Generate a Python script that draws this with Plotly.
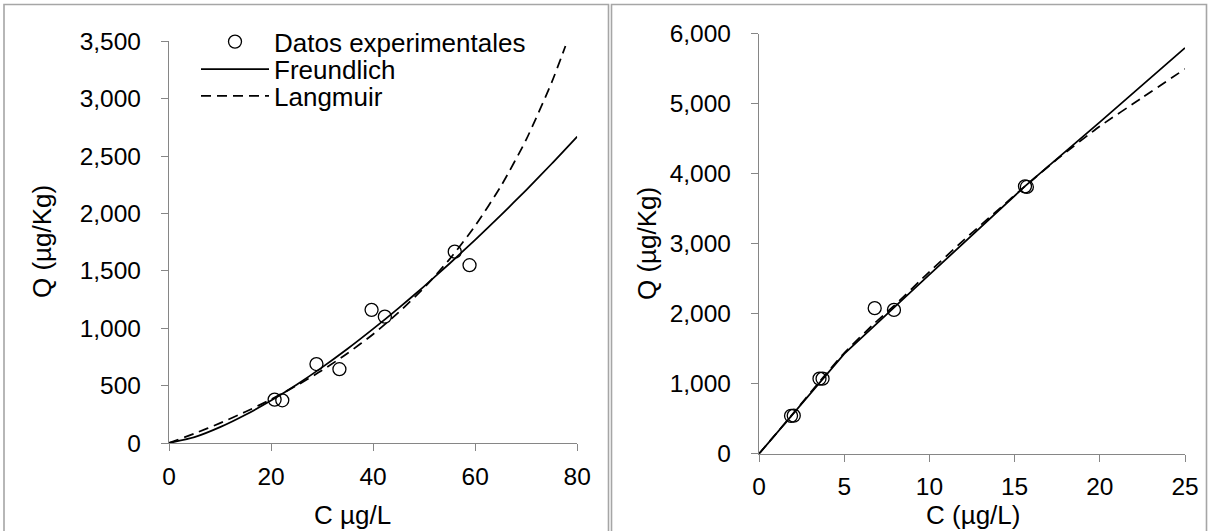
import plotly.graph_objects as go

W, H = 1209, 531

# ---------------- data: left panel ----------------
c_exp_left = [20.7, 22.2, 28.9, 33.4, 39.7, 42.3, 56.0, 58.9]
q_exp_left = [378, 372, 688, 643, 1160, 1101, 1667, 1549]

c_fit_left = [0, 5, 10, 15, 20, 25, 30, 35, 40, 45, 50, 55, 60, 65, 70, 75, 80]
q_freund_left = [0, 51, 138, 246, 370, 508, 659, 821, 994, 1175, 1365, 1564, 1770, 1983, 2204, 2433, 2670]

c_lang_left = [0, 5, 10, 15, 20, 25, 30, 35, 40, 45, 50, 55, 60, 65, 70, 75, 77.7]
q_lang_left = [0, 83, 173, 272, 380, 500, 633, 782, 948, 1138, 1353, 1602, 1892, 2234, 2643, 3142, 3459]

# ---------------- data: right panel ----------------
c_exp_right = [1.88, 2.04, 3.55, 3.73, 6.79, 7.92, 15.61, 15.72]
q_exp_right = [542, 545, 1074, 1074, 2081, 2056, 3822, 3813]

c_freund_right = [0, 1.9, 3.6, 5, 6.8, 7.9, 10, 15.6, 20, 25]
q_freund_right = [0, 545, 1035, 1427, 1835, 2085, 2560, 3820, 4740, 5800]

c_lang_right = [0, 1.9, 3.6, 5, 6.8, 7.9, 10, 12, 15.6, 17.5, 20, 22.5, 25]
q_lang_right = [0, 545, 1045, 1440, 1870, 2110, 2600, 3050, 3820, 4210, 4680, 5090, 5500]

left_xticks = [0, 20, 40, 60, 80]
left_yticks = [0, 500, 1000, 1500, 2000, 2500, 3000, 3500]
right_xticks = [0, 5, 10, 15, 20, 25]
right_yticks = [0, 1000, 2000, 3000, 4000, 5000, 6000]

names = ["Datos experimentales", "Freundlich", "Langmuir"]

FONT = "Liberation Sans, Arial, sans-serif"
AXC = "#868686"
LW = 1.75
DASH = "10px,6px"


def px(x):
    return x / W


def py(y):
    return 1 - y / H


fig = go.Figure()

# left panel traces
fig.add_trace(go.Scatter(x=c_exp_left, y=q_exp_left, mode="markers", name=names[0],
                         marker=dict(symbol="circle-open", size=13, color="black", line=dict(width=1.3)),
                         xaxis="x", yaxis="y", legend="legend"))
fig.add_trace(go.Scatter(x=c_fit_left, y=q_freund_left, mode="lines", name=names[1],
                         line=dict(color="black", width=LW, shape="spline", smoothing=0.6),
                         xaxis="x", yaxis="y", legend="legend2"))
fig.add_trace(go.Scatter(x=c_lang_left, y=q_lang_left, mode="lines", name=names[2],
                         line=dict(color="black", width=LW, dash=DASH, shape="spline", smoothing=0.6),
                         xaxis="x", yaxis="y", legend="legend3"))

# right panel traces
fig.add_trace(go.Scatter(x=c_exp_right, y=q_exp_right, mode="markers", showlegend=False,
                         marker=dict(symbol="circle-open", size=13, color="black", line=dict(width=1.3)),
                         xaxis="x2", yaxis="y2"))
fig.add_trace(go.Scatter(x=c_freund_right, y=q_freund_right, mode="lines", showlegend=False,
                         line=dict(color="black", width=LW),
                         xaxis="x2", yaxis="y2"))
fig.add_trace(go.Scatter(x=c_lang_right, y=q_lang_right, mode="lines", showlegend=False,
                         line=dict(color="black", width=LW, dash=DASH, shape="spline", smoothing=0.5),
                         xaxis="x2", yaxis="y2"))

tickfont = dict(family=FONT, size=24.5, color="black")
common = dict(showgrid=False, zeroline=False, showline=True, linecolor=AXC, linewidth=1.2,
              ticks="outside", ticklen=7, tickcolor=AXC, tickwidth=1.2, tickfont=tickfont,
              tickformat=",d", fixedrange=True, automargin=False)

fig.update_layout(
    template="none",
    width=W, height=H,
    autosize=False,
    margin=dict(l=0, r=0, t=0, b=0, pad=0, autoexpand=False),
    paper_bgcolor="white", plot_bgcolor="white",
    xaxis=dict(domain=[px(169), px(577.2)], range=[0, 80], tickvals=left_xticks,
               anchor="y", ticklabelstandoff=4, **common),
    yaxis=dict(domain=[py(443), py(41.3)], range=[0, 3500], tickvals=left_yticks,
               anchor="x", ticklabelstandoff=15, **common),
    xaxis2=dict(domain=[px(759), px(1185)], range=[0, 25], tickvals=right_xticks,
                anchor="y2", ticklabelstandoff=4, **common),
    yaxis2=dict(domain=[py(453.8), py(33.9)], range=[0, 6000], tickvals=right_yticks,
                anchor="x2", ticklabelstandoff=15, **common),
    showlegend=True,
)

legend_common = dict(font=dict(family=FONT, size=26, color="black"), bgcolor="rgba(0,0,0,0)",
                     borderwidth=0, itemwidth=68, xanchor="left", yanchor="middle",
                     tracegroupgap=0, itemclick=False, itemdoubleclick=False)
fig.update_layout(
    legend=dict(x=px(196), y=py(41.7), **legend_common),
    legend2=dict(x=px(196), y=py(69.3), **legend_common),
    legend3=dict(x=px(196), y=py(96), **legend_common),
)

# axis titles
ann_font = dict(family=FONT, size=26, color="black")
fig.add_annotation(text="C µg/L", x=px(352), y=py(515), xref="paper", yref="paper",
                   showarrow=False, font=ann_font, xanchor="center", yanchor="middle")
fig.add_annotation(text="C (µg/L)", x=px(973), y=py(515), xref="paper", yref="paper",
                   showarrow=False, font=ann_font, xanchor="center", yanchor="middle")
fig.add_annotation(text="Q (µg/Kg)", x=px(42), y=py(242), xref="paper", yref="paper",
                   showarrow=False, font=ann_font, textangle=-90, xanchor="center", yanchor="middle")
fig.add_annotation(text="Q (µg/Kg)", x=px(647), y=py(244), xref="paper", yref="paper",
                   showarrow=False, font=ann_font, textangle=-90, xanchor="center", yanchor="middle")

# panel borders
border = dict(color="#a6a6a6", width=1.6)
fig.add_shape(type="rect", xref="paper", yref="paper", x0=px(4), x1=px(608.5), y0=py(540), y1=py(4.5),
              line=border, layer="below")
fig.add_shape(type="rect", xref="paper", yref="paper", x0=px(611.5), x1=px(1206.5), y0=py(540), y1=py(4.5),
              line=border, layer="below")

fig.write_html("out.html", config={"displayModeBar": False},
               post_script="document.body.style.margin='0';document.body.style.overflow='hidden';")
